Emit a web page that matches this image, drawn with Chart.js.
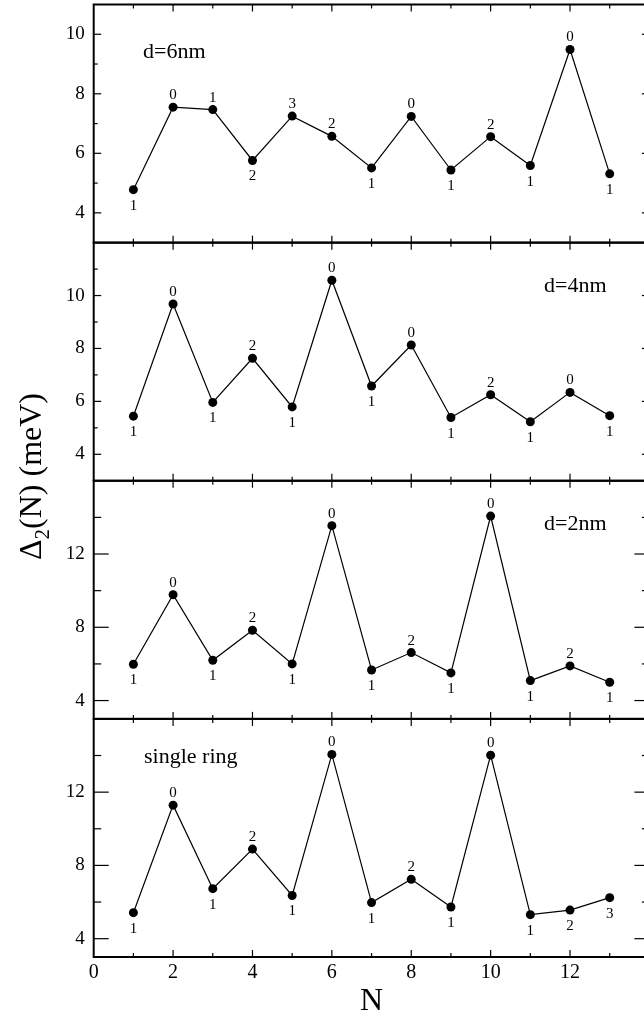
<!DOCTYPE html>
<html>
<head>
<meta charset="utf-8">
<title>Delta2(N)</title>
<script src="https://cdn.jsdelivr.net/npm/chart.js@4.4.1/dist/chart.umd.min.js"></script>
<style>
  html, body { margin: 0; padding: 0; background: #fff; overflow: hidden; }
  canvas { display: block; }
</style>
</head>
<body>
<canvas id="gapChart" width="660" height="1019"></canvas>
<script>
// number of electrons N
const nValues = [1, 2, 3, 4, 5, 6, 7, 8, 9, 10, 11, 12, 13];

// addition energy Delta_2(N) in meV, one array per panel (top to bottom)
const gap6nm = [4.78, 7.55, 7.47, 5.76, 7.25, 6.57, 5.51, 7.24, 5.44, 6.56, 5.59, 9.49, 5.31];
const gap4nm = [5.44, 9.68, 5.96, 7.63, 5.79, 10.58, 6.58, 8.13, 5.39, 6.25, 5.23, 6.34, 5.46];
const gap2nm = [5.98, 9.78, 6.20, 7.84, 6.00, 13.55, 5.67, 6.62, 5.51, 14.07, 5.09, 5.89, 5.00];
const gapSingle = [5.42, 11.29, 6.73, 8.89, 6.36, 14.06, 5.97, 7.24, 5.73, 14.02, 5.31, 5.56, 6.24];

// numbers printed next to each point
const spin6nm = [1, 0, 1, 2, 3, 2, 1, 0, 1, 2, 1, 0, 1];
const spin4nm = [1, 0, 1, 2, 1, 0, 1, 0, 1, 2, 1, 0, 1];
const spin2nm = [1, 0, 1, 2, 1, 0, 1, 2, 1, 0, 1, 2, 1];
const spinSingle = [1, 0, 1, 2, 1, 0, 1, 2, 1, 0, 1, 2, 3];

const panelNames = ["d=6nm", "d=4nm", "d=2nm", "single ring"];

// axes
const xTickLabels = [0, 2, 4, 6, 8, 10, 12];
const xTickMarks = [1, 2, 3, 4, 5, 6, 7, 8, 9, 10, 11, 12, 13];
const yTickLabels6nm = [4, 6, 8, 10];
const yTickLabels4nm = [4, 6, 8, 10];
const yTickLabels2nm = [4, 8, 12];
const yTickLabelsSingle = [4, 8, 12];
const yTickMarks6nm = [4, 5, 6, 7, 8, 9, 10];
const yTickMarks4nm = [4, 5, 6, 7, 8, 9, 10, 11];
const yTickMarks2nm = [4, 6, 8, 10, 12, 14];
const yTickMarksSingle = [4, 6, 8, 10, 12, 14];

// ---- layout / styling below ----
const serif = "'Liberation Serif', 'Times New Roman', serif";

const panels = [
  { id: "y0", values: gap6nm, spins: spin6nm, ticks: yTickLabels6nm, marks: yTickMarks6nm,
    min: 3, max: 11, major: 7.5, minor: 4, capX: 143, capDy: 53,
    side: "baadaadadadad" },
  { id: "y1", values: gap4nm, spins: spin4nm, ticks: yTickLabels4nm, marks: yTickMarks4nm,
    min: 3, max: 12, major: 7.5, minor: 4, capX: 544, capDy: 49,
    side: "badadadadadad" },
  { id: "y2", values: gap2nm, spins: spin2nm, ticks: yTickLabels2nm, marks: yTickMarks2nm,
    min: 3, max: 16, major: 15, minor: 7.5, capX: 544, capDy: 49.5,
    side: "badadadadadad" },
  { id: "y3", values: gapSingle, spins: spinSingle, ticks: yTickLabelsSingle, marks: yTickMarksSingle,
    min: 3, max: 16, major: 15, minor: 7.5, capX: 144, capDy: 44,
    side: "badadadadadbb" }
];

// stop chart.js from reserving room for overhanging tick labels
function noPad(s) {
  s.paddingTop = 0;
  s.paddingBottom = 0;
  s.paddingLeft = 0;
  s.paddingRight = 0;
}

const scales = {
  x: {
    type: "linear",
    min: 0,
    max: 14,
    grid: { display: false, drawTicks: false },
    border: { display: false },
    ticks: { font: { family: serif, size: 20 }, color: "#000", padding: 4 },
    afterBuildTicks: (s) => { s.ticks = xTickLabels.map((v) => ({ value: v })); },
    afterFit: (s) => { s.height = 62; noPad(s); }
  }
};

panels.forEach((p, i) => {
  scales[p.id] = {
    type: "linear",
    position: "left",
    stack: "panels",
    stackWeight: 1,
    weight: 4 - i,
    min: p.min,
    max: p.max,
    grid: { display: false, drawTicks: false },
    border: { display: false },
    ticks: { font: { family: serif, size: 19 }, color: "#000", padding: 9 },
    afterBuildTicks: (s) => { s.ticks = p.ticks.map((v) => ({ value: v })); },
    afterFit: (s) => { s.width = 93.7; noPad(s); }
  };
});

function line(ctx, x1, y1, x2, y2) {
  ctx.beginPath();
  ctx.moveTo(x1, y1);
  ctx.lineTo(x2, y2);
  ctx.stroke();
}

// frames, inward ticks, point numbers and titles
const decorations = {
  id: "decorations",
  afterDatasetsDraw(chart) {
    const ctx = chart.ctx;
    const xs = chart.scales.x;
    const { left, right } = chart.chartArea;
    ctx.save();
    ctx.strokeStyle = "#000";
    ctx.fillStyle = "#000";

    panels.forEach((p, i) => {
      const ys = chart.scales[p.id];

      ctx.lineWidth = 1.2;
      p.marks.forEach((v) => {
        const y = ys.getPixelForValue(v);
        const len = p.ticks.includes(v) ? p.major : p.minor;
        line(ctx, left, y, left + len, y);
        line(ctx, right - len, y, right, y);
      });
      xTickMarks.forEach((n) => {
        const x = xs.getPixelForValue(n);
        const len = n % 2 === 0 ? 7 : 4;
        line(ctx, x, ys.top, x, ys.top + len);
        line(ctx, x, ys.bottom - len, x, ys.bottom);
      });

      ctx.lineWidth = 2;
      ctx.strokeRect(left, ys.top, right - left, ys.bottom - ys.top);

      // numbers next to the points
      ctx.font = "15px " + serif;
      ctx.textAlign = "center";
      ctx.textBaseline = "alphabetic";
      const meta = chart.getDatasetMeta(i);
      meta.data.forEach((pt, j) => {
        const above = p.side[j] === "a";
        ctx.fillText(String(p.spins[j]), pt.x, above ? pt.y - 8 : pt.y + 20);
      });

      // panel caption
      ctx.font = "22px " + serif;
      ctx.textAlign = "left";
      ctx.fillText(panelNames[i], p.capX, ys.top + p.capDy);
    });

    // x title
    ctx.font = "32px " + serif;
    ctx.textAlign = "center";
    ctx.fillText("N", xs.getPixelForValue(7), 1010);

    // y title, rotated
    ctx.translate(41, 560);
    ctx.rotate(-Math.PI / 2);
    ctx.textAlign = "left";
    ctx.font = "32px " + serif;
    const wDelta = ctx.measureText("\u0394").width;
    ctx.fillText("\u0394", 0, 0);
    ctx.font = "21px " + serif;
    const wSub = ctx.measureText("2").width;
    ctx.fillText("2", wDelta, 8);
    ctx.font = "32px " + serif;
    ctx.fillText("(N) (meV)", wDelta + wSub, 0);
    ctx.restore();
  }
};

const ctx = document.getElementById("gapChart").getContext("2d");
const gapChart = new Chart(ctx, {
  type: "line",
  data: {
    datasets: panels.map((p) => ({
      label: p.id,
      yAxisID: p.id,
      data: nValues.map((n, j) => ({ x: n, y: p.values[j] })),
      borderColor: "#000",
      borderWidth: 1.2,
      pointRadius: 4.5,
      pointBackgroundColor: "#000",
      pointBorderColor: "#000",
      pointBorderWidth: 0,
      tension: 0,
      fill: false
    }))
  },
  options: {
    responsive: false,
    animation: false,
    devicePixelRatio: 1,
    layout: { padding: { left: 0, right: 10.6, top: 4, bottom: 0 } },
    plugins: { legend: { display: false }, tooltip: { enabled: false } },
    scales: scales
  },
  plugins: [decorations]
});
</script>
</body>
</html>
